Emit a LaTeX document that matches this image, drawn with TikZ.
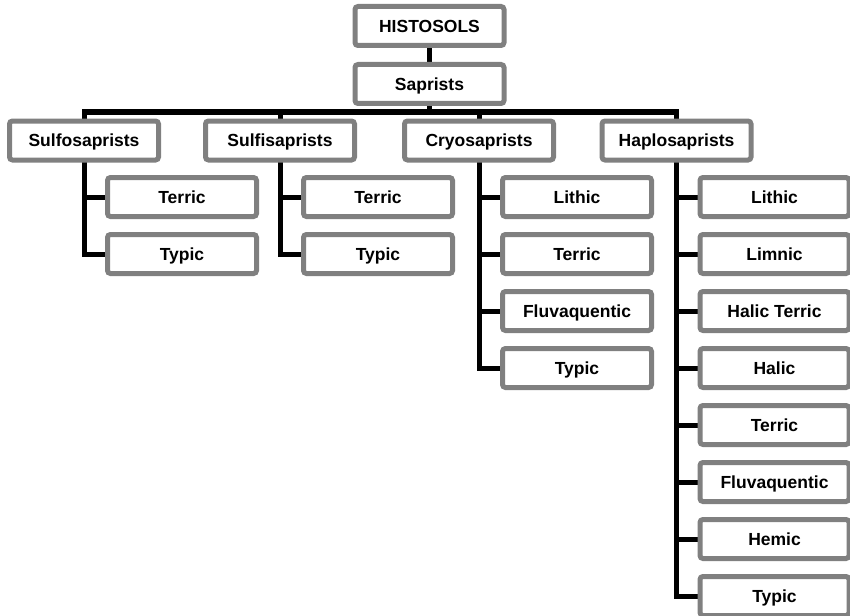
\documentclass[tikz,border=0pt]{standalone}
\usepackage{fontspec}
\setmainfont{Liberation Sans}
\usetikzlibrary{backgrounds}
\definecolor{boxgray}{RGB}{128,128,128}
\begin{document}
\begin{tikzpicture}[x=1pt,y=1pt,
  box/.style={draw=boxgray, line width=5pt, fill=white, rounded corners=3pt,
    minimum width=149pt, minimum height=39pt, inner sep=0pt,
    text height=12.6pt, text depth=0pt,
    font=\fontsize{17.5}{20}\selectfont\bfseries},
  conn/.style={line width=5pt, draw=black, line join=miter}]
\useasboundingbox (0,0) rectangle (850,-615);
\clip (0,0) rectangle (850,-615);
% top
\node[box] (hist) at (429.5,-26) {HISTOSOLS};
\node[box] (sap) at (429.5,-84) {Saprists};
% level 2
\node[box] (sulfo) at (84,-140.5) {Sulfosaprists};
\node[box] (sulfi) at (280,-140.5) {Sulfisaprists};
\node[box] (cryo) at (479,-140.5) {Cryosaprists};
\node[box] (haplo) at (676.5,-140.5) {Haplosaprists};
% children
\node[box] (sa1) at (182,-197) {Terric};
\node[box] (sa2) at (182,-254) {Typic};
\node[box] (sb1) at (378,-197) {Terric};
\node[box] (sb2) at (378,-254) {Typic};
\node[box] (c1) at (577,-197) {Lithic};
\node[box] (c2) at (577,-254) {Terric};
\node[box] (c3) at (577,-311) {Fluvaquentic};
\node[box] (c4) at (577,-368) {Typic};
\node[box] (h1) at (774.5,-197) {Lithic};
\node[box] (h2) at (774.5,-254) {Limnic};
\node[box] (h3) at (774.5,-311) {Halic Terric};
\node[box] (h4) at (774.5,-368) {Halic};
\node[box] (h5) at (774.5,-425) {Terric};
\node[box] (h6) at (774.5,-482) {Fluvaquentic};
\node[box] (h7) at (774.5,-539) {Hemic};
\node[box] (h8) at (774.5,-596) {Typic};
\coordinate (bar) at (0,-112);
\begin{scope}[on background layer]
  \draw[conn] (hist.center) -- (sap.center);
  \draw[conn] (sap.center) -- (sap |- bar);
  \draw[conn, line cap=rect] (sulfo |- bar) -- (haplo |- bar);
  \foreach \p in {sulfo,sulfi,cryo,haplo}
    \draw[conn] (\p.center) -- (\p |- bar);
  \foreach \c in {sa1,sa2} \draw[conn] (sulfo.center) |- (\c.center);
  \foreach \c in {sb1,sb2} \draw[conn] (sulfi.center) |- (\c.center);
  \foreach \c in {c1,c2,c3,c4} \draw[conn] (cryo.center) |- (\c.center);
  \foreach \c in {h1,h2,h3,h4,h5,h6,h7,h8} \draw[conn] (haplo.center) |- (\c.center);
\end{scope}
\end{tikzpicture}
\end{document}
